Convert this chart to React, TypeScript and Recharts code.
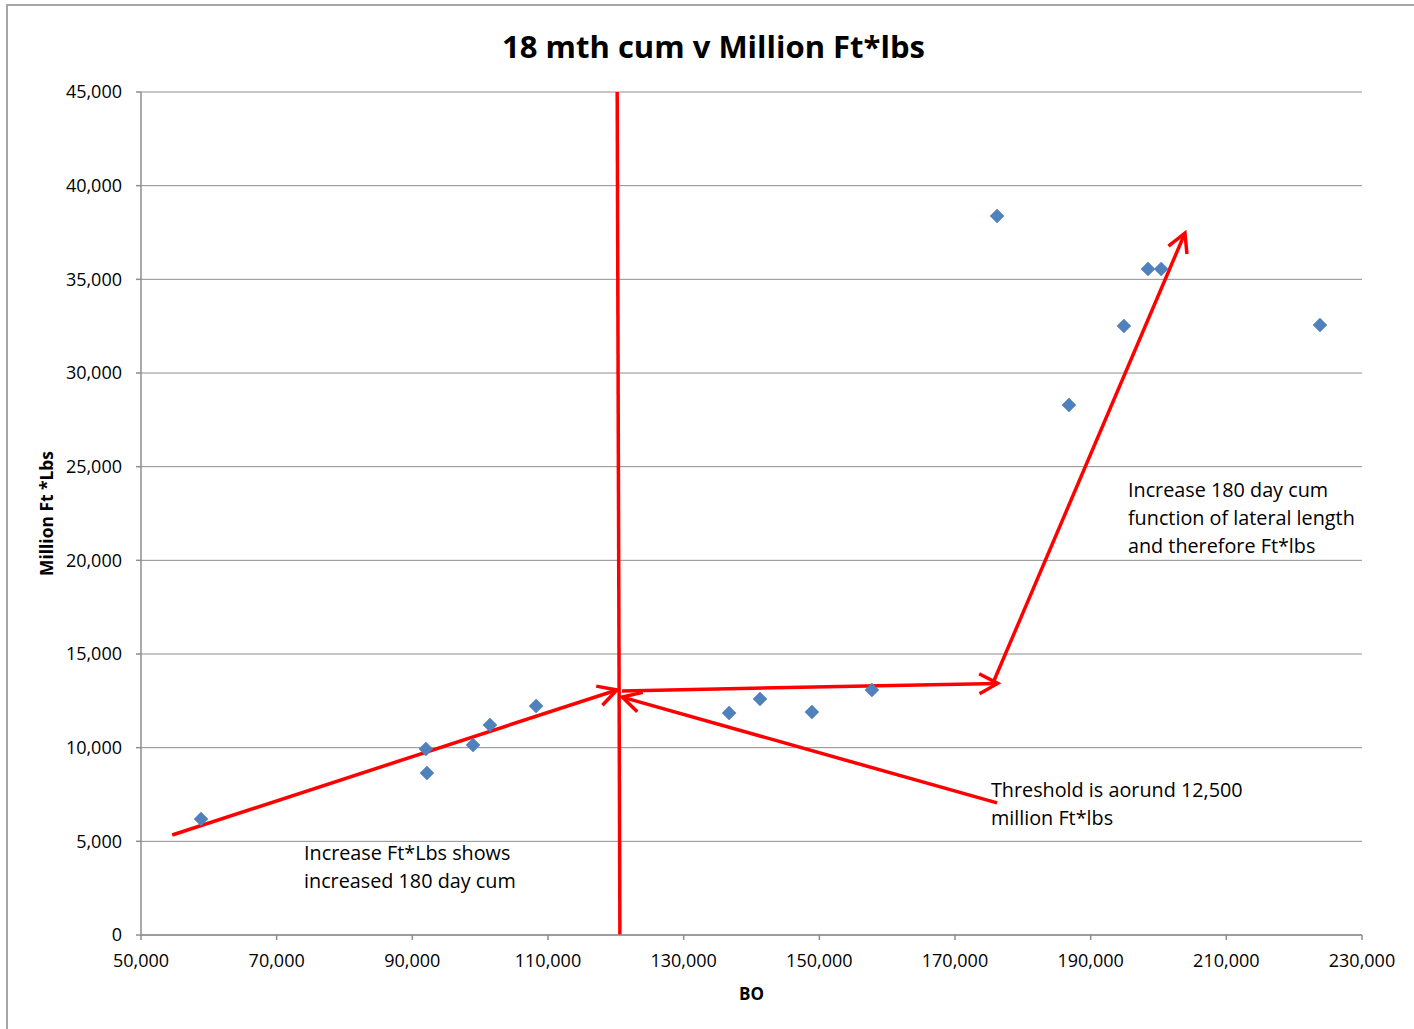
import {
  ScatterChart,
  Scatter,
  XAxis,
  YAxis,
  CartesianGrid,
  ReferenceLine,
  ReferenceDot,
} from 'recharts';

// BO (x) vs Million Ft*lbs (y)
const boValues = [
  58850, 92000, 92150, 98950, 101450, 108250, 136700, 141250, 148900, 157750, 176200, 186800,
  194900, 198450, 200400, 223800,
];
const ftLbsValues = [
  6190, 9930, 8650, 10140, 11210, 12220, 11850, 12600, 11900, 13080, 38380, 28290, 32510, 35550,
  35550, 32560,
];

const xTicks = [50000, 70000, 90000, 110000, 130000, 150000, 170000, 190000, 210000, 230000];
const yTicks = [0, 5000, 10000, 15000, 20000, 25000, 30000, 35000, 40000, 45000];

// hand-drawn annotation arrows: [x1, y1, x2, y2, head at start, head at end]
const arrows: [number, number, number, number, boolean, boolean][] = [
  [120200, 45000, 120600, 0, false, false],
  [54600, 5340, 120150, 13080, false, true],
  [120900, 13030, 176300, 13430, false, true],
  [176200, 7050, 120950, 12700, false, true],
  [175600, 13450, 203900, 37470, false, true],
];

const notes = [
  { x: 74030, y: 4420, lines: ['Increase Ft*Lbs shows', 'increased 180 day cum'] },
  { x: 175300, y: 7780, lines: ['Threshold is aorund 12,500', 'million Ft*lbs'] },
  {
    x: 195500,
    y: 23800,
    lines: ['Increase 180 day cum', 'function of lateral length', 'and therefore Ft*lbs'],
  },
];

const points = boValues.map((bo, i) => ({ bo, ftLbs: ftLbsValues[i] }));

const FONT = '"Open Sans", "Liberation Sans", sans-serif';
const RED = '#ff0000';
const GRID = '#8e8e8e';

const fmt = (v: number) => v.toLocaleString('en-US');

const Diamond = (props: any) => {
  const { cx, cy } = props;
  const r = 7;
  return (
    <polygon
      points={`${cx},${cy - r} ${cx + r},${cy} ${cx},${cy + r} ${cx - r},${cy}`}
      fill="#4f81bd"
      stroke="#4a7ab4"
      strokeWidth={0.5}
    />
  );
};

function head(x1: number, y1: number, x2: number, y2: number) {
  // open chevron at (x2, y2) pointing away from (x1, y1)
  const a = Math.atan2(y2 - y1, x2 - x1);
  const len = 21;
  const spread = 0.5;
  const p1 = [x2 - len * Math.cos(a - spread), y2 - len * Math.sin(a - spread)];
  const p2 = [x2 - len * Math.cos(a + spread), y2 - len * Math.sin(a + spread)];
  return `M${p1[0]},${p1[1]} L${x2},${y2} L${p2[0]},${p2[1]}`;
}

const arrowShape = (startHead: boolean, endHead: boolean) => (props: any) => {
  const { x1, y1, x2, y2 } = props;
  if ([x1, y1, x2, y2].some((v) => v == null || Number.isNaN(v))) return <g />;
  return (
    <g fill="none" stroke={RED} strokeWidth={3.5} strokeLinejoin="miter" strokeLinecap="butt">
      <line x1={x1} y1={y1} x2={x2} y2={y2} />
      {endHead && <path d={head(x1, y1, x2, y2)} />}
      {startHead && <path d={head(x2, y2, x1, y1)} />}
    </g>
  );
};

const noteShape = (lines: string[]) => (props: any) => {
  const { cx, cy } = props;
  return (
    <text x={cx} y={cy} fontFamily={FONT} fontSize={19.8} fill="#000" dominantBaseline="central">
      {lines.map((l, i) => (
        <tspan key={i} x={cx} dy={i === 0 ? 0 : 28}>
          {l}
        </tspan>
      ))}
    </text>
  );
};

export default function App() {
  return (
    <div
      style={{
        position: 'absolute',
        left: 6,
        top: 4,
        width: 1406,
        height: 1023,
        borderTop: '2px solid #a6a6a6',
        borderLeft: '2px solid #a6a6a6',
        background: '#fff',
        overflow: 'hidden',
      }}
    >
      <div
        style={{
          position: 'absolute',
          left: 0,
          top: 19,
          width: 1411,
          textAlign: 'center',
          fontFamily: FONT,
          fontWeight: 700,
          fontSize: 31,
          lineHeight: '42px',
        }}
      >
        18 mth cum v Million Ft*lbs
      </div>
      <ScatterChart
        width={1406}
        height={1023}
        margin={{ top: 86, right: 52, left: 0, bottom: 34 }}
      >
        <CartesianGrid horizontal vertical={false} stroke={GRID} strokeWidth={1} />
        <XAxis
          type="number"
          dataKey="bo"
          domain={[50000, 230000]}
          ticks={xTicks}
          tickFormatter={fmt}
          height={60}
          tickSize={5}
          tickMargin={14}
          axisLine={{ stroke: GRID, strokeWidth: 1.5 }}
          tickLine={{ stroke: GRID, strokeWidth: 1.5 }}
          tick={{ fill: '#000', fontFamily: FONT, fontSize: 18 }}
          interval={0}
          allowDataOverflow
          label={{
            content: (p: any) => {
              const vb = p.viewBox;
              return (
                <text
                  x={vb.x + vb.width / 2}
                  y={vb.y + 58}
                  textAnchor="middle"
                  dominantBaseline="central"
                  fontFamily={FONT}
                  fontWeight={700}
                  fontSize={17}
                  fill="#000"
                >
                  BO
                </text>
              );
            },
          }}
        />
        <YAxis
          type="number"
          dataKey="ftLbs"
          domain={[0, 45000]}
          ticks={yTicks}
          tickFormatter={fmt}
          width={133}
          tickSize={5}
          tickMargin={14}
          axisLine={{ stroke: GRID, strokeWidth: 1.5 }}
          tickLine={{ stroke: GRID, strokeWidth: 1.5 }}
          tick={{ fill: '#000', fontFamily: FONT, fontSize: 18 }}
          interval={0}
          allowDataOverflow
          label={{
            content: (p: any) => {
              const vb = p.viewBox;
              const cx = vb.x + 38;
              const cy = vb.y + vb.height / 2;
              return (
                <text
                  x={cx}
                  y={cy}
                  transform={`rotate(-90, ${cx}, ${cy})`}
                  textAnchor="middle"
                  dominantBaseline="central"
                  fontFamily={FONT}
                  fontWeight={700}
                  fontSize={17.4}
                  fill="#000"
                >
                  Million Ft *Lbs
                </text>
              );
            },
          }}
        />
        <Scatter data={points} shape={<Diamond />} isAnimationActive={false} />
        {arrows.map(([x1, y1, x2, y2, s, e], i) => (
          <ReferenceLine
            key={`a${i}`}
            segment={[
              { x: x1, y: y1 },
              { x: x2, y: y2 },
            ]}
            ifOverflow="visible"
            shape={arrowShape(s, e)}
          />
        ))}
        {notes.map((n, i) => (
          <ReferenceDot
            key={`n${i}`}
            x={n.x}
            y={n.y}
            r={0}
            ifOverflow="visible"
            shape={noteShape(n.lines)}
          />
        ))}
      </ScatterChart>
    </div>
  );
}
